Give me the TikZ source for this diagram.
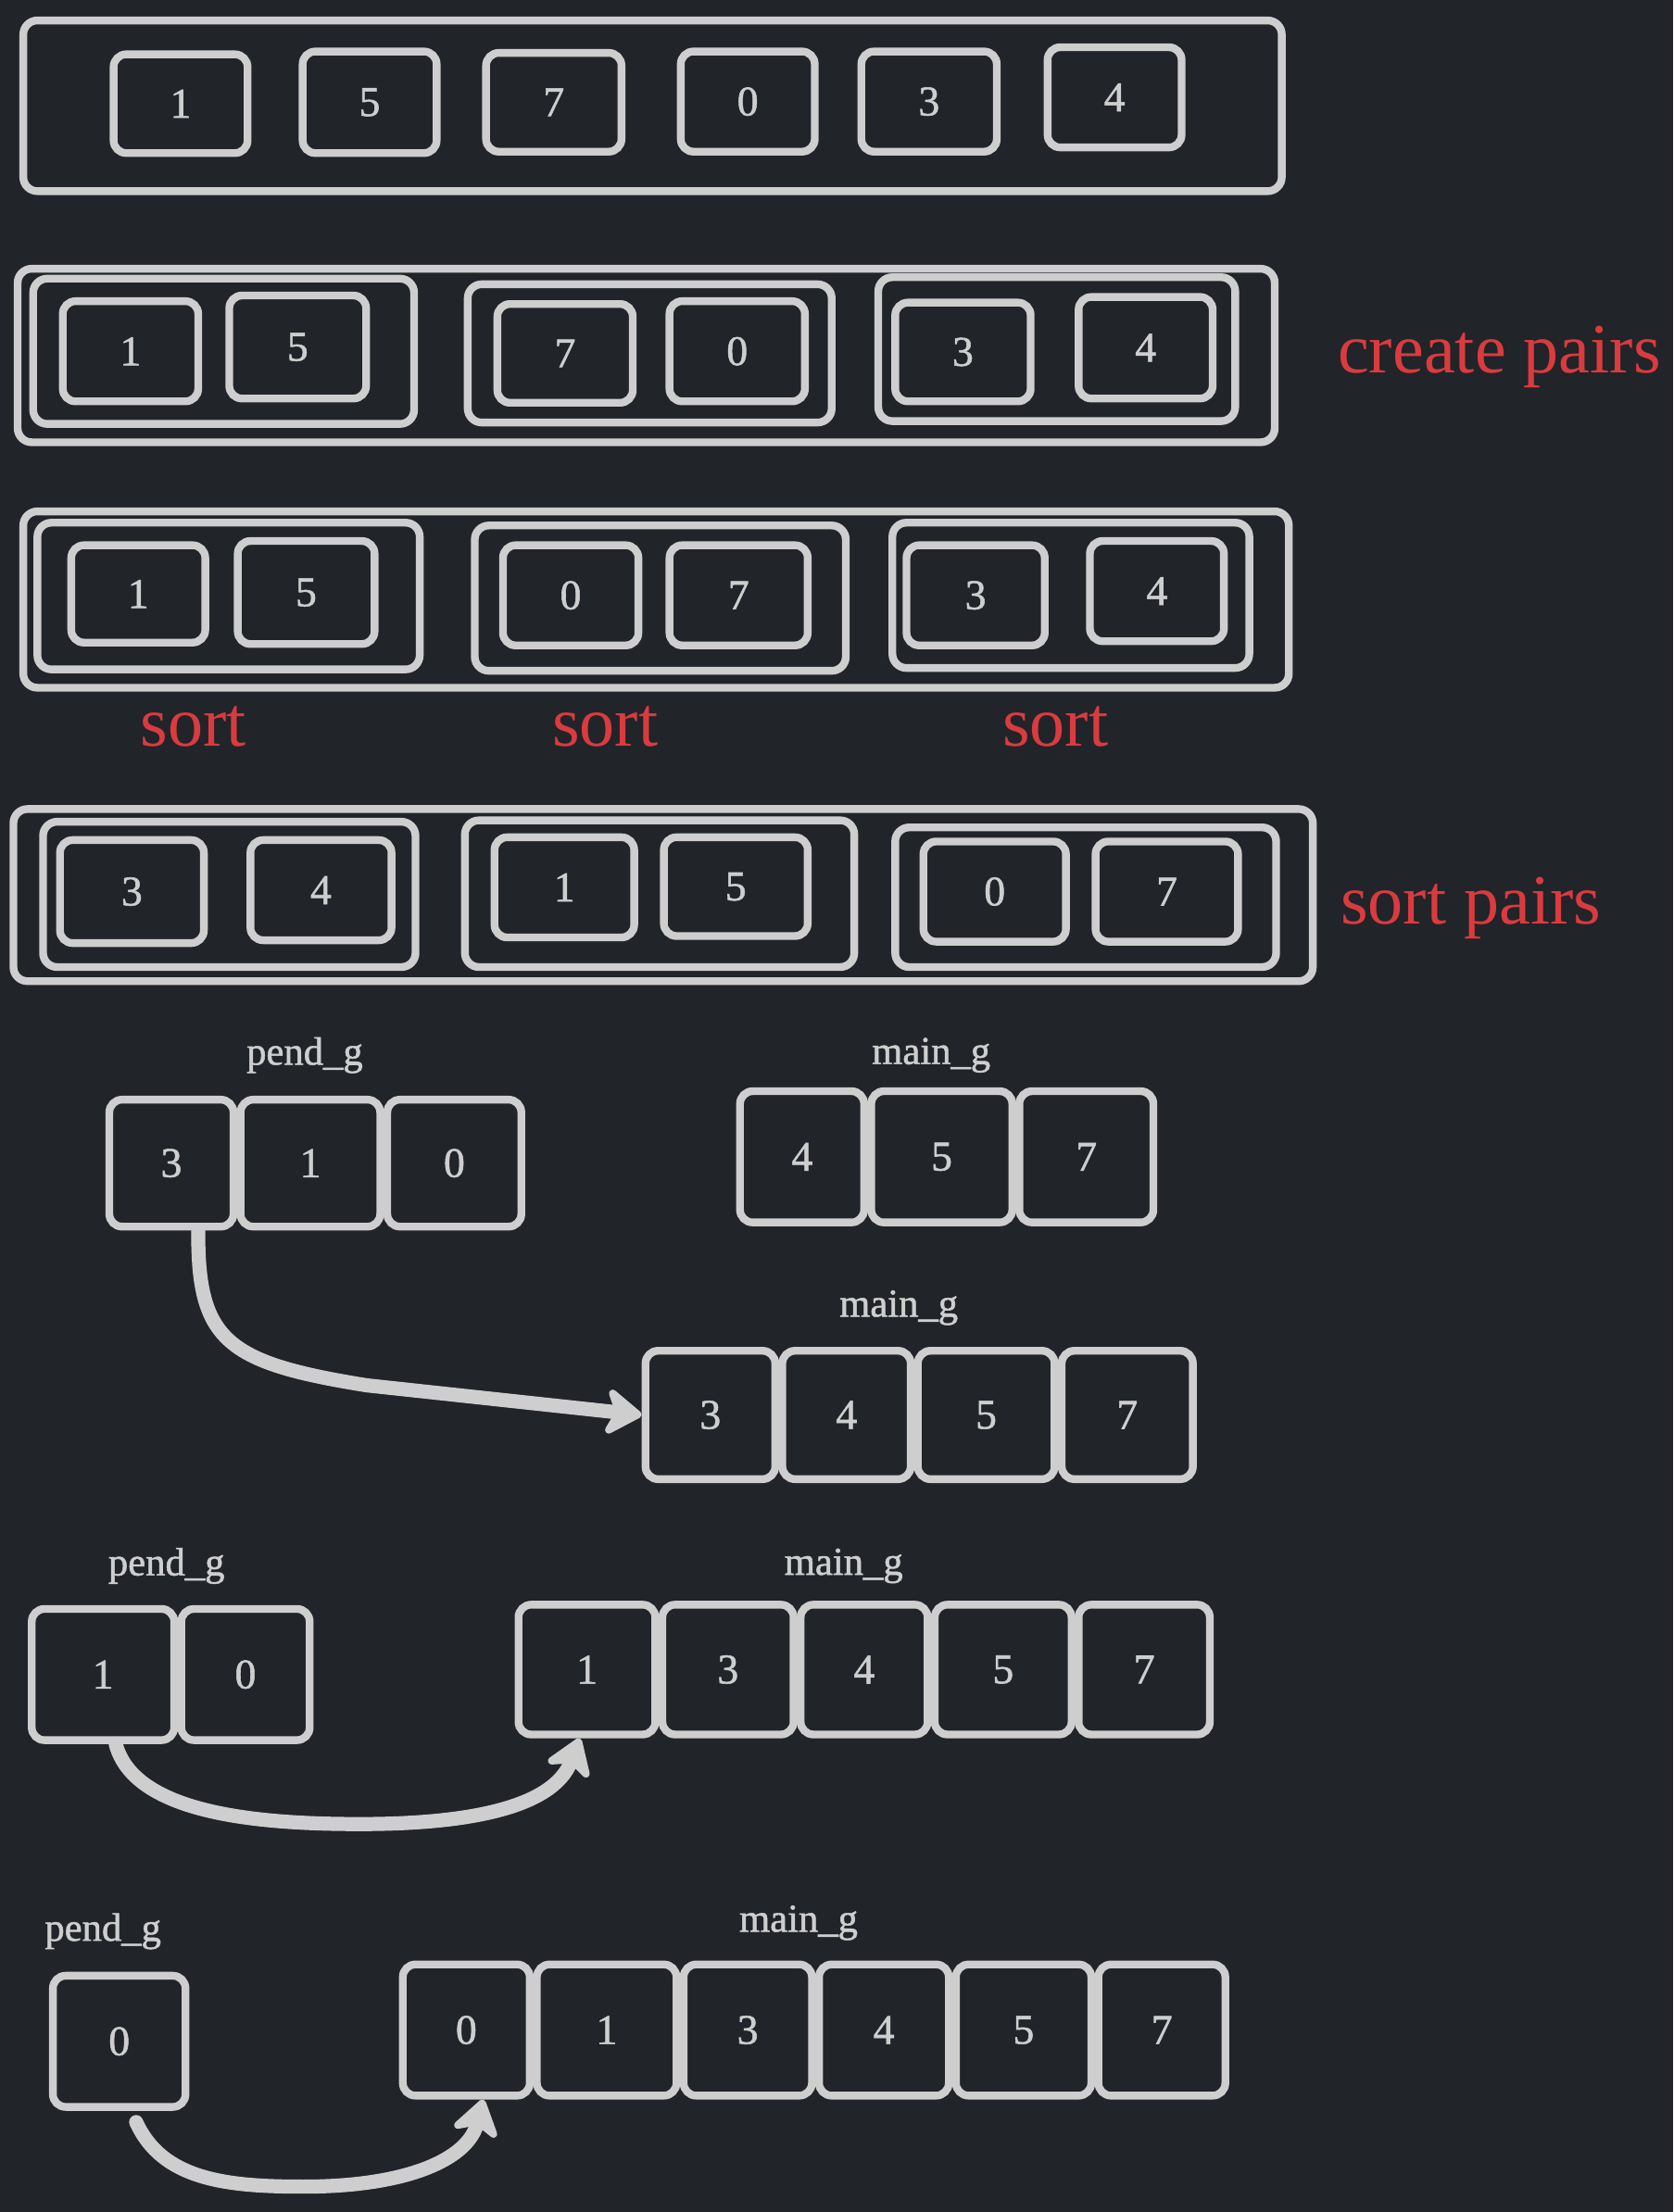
\documentclass[tikz,border=0pt]{standalone}
\usepackage{fontspec}
\setmainfont{Liberation Serif}
\newfontfamily\heavyserif[FakeBold=1.2]{Liberation Serif}
\usetikzlibrary{arrows.meta}
\definecolor{bgc}{HTML}{212429}
\definecolor{fg}{HTML}{CECECE}
\definecolor{redc}{HTML}{D93B3F}
\newcommand{\digitfont}{\heavyserif\fontsize{30}{36}\selectfont}
\newcommand{\grpfont}{\heavyserif\fontsize{28}{32}\selectfont}
\newcommand{\redfont}{\fontsize{50}{60}\selectfont}
\tikzset{
  frame/.style={draw=fg, line width=5.5pt, rounded corners=10pt, inner sep=0pt},
  cell/.style={draw=fg, line width=5.5pt, rounded corners=9pt, inner sep=0pt, font=\digitfont, text=fg},
  grplabel/.style={font=\grpfont, text=fg, inner sep=0pt},
  redlabel/.style={font=\redfont, text=redc, inner sep=0pt},
  movearrow/.style={draw=fg, line width=10pt, line cap=round, -{Stealth[length=30pt,width=40pt,inset=9pt,round]}},
}
\begin{document}
\begin{tikzpicture}[x=1pt,y=-1pt]
\useasboundingbox (0,0) rectangle (1186,1568);
\fill[bgc] (0,0) rectangle (1186,1568);

% ---------- Row 1 ----------
\node[frame, minimum width=892pt, minimum height=121pt] (r1) at (462.5,75) {};
\node[cell, minimum width=95pt, minimum height=70pt] (r1a) at (128,73.5) {1};
\node[cell, minimum width=95pt, minimum height=72pt] (r1b) at (262,72.5) {5};
\node[cell, minimum width=96pt, minimum height=70pt] (r1c) at (392.5,72.5) {7};
\node[cell, minimum width=95pt, minimum height=71pt] (r1d) at (530,72) {0};
\node[cell, minimum width=96pt, minimum height=71pt] (r1e) at (658.5,72) {3};
\node[cell, minimum width=95pt, minimum height=71pt] (r1f) at (790,69) {4};

% ---------- Row 2 ----------
\node[frame, minimum width=891pt, minimum height=123pt] (r2) at (458,252) {};
\node[frame, minimum width=270pt, minimum height=103pt] (r2g1) at (158.5,249) {};
\node[frame, minimum width=258pt, minimum height=98pt] (r2g2) at (460.5,250.5) {};
\node[frame, minimum width=253pt, minimum height=102pt] (r2g3) at (749,247.5) {};
\node[cell, minimum width=96pt, minimum height=71pt] (r2a) at (92.5,249) {1};
\node[cell, minimum width=97pt, minimum height=73pt] (r2b) at (211,246) {5};
\node[cell, minimum width=96pt, minimum height=70pt] (r2c) at (400.5,250.5) {7};
\node[cell, minimum width=96pt, minimum height=71pt] (r2d) at (522.5,249) {0};
\node[cell, minimum width=96pt, minimum height=70pt] (r2e) at (682.5,249.5) {3};
\node[cell, minimum width=95pt, minimum height=72pt] (r2f) at (812,246.5) {4};
\node[redlabel, anchor=base west] (lcp) at (948,264) {create pairs};

% ---------- Row 3 ----------
\node[frame, minimum width=897pt, minimum height=125pt] (r3) at (465,425) {};
\node[frame, minimum width=271pt, minimum height=104pt] (r3g1) at (162,422.5) {};
\node[frame, minimum width=263pt, minimum height=103pt] (r3g2) at (468,424) {};
\node[frame, minimum width=253pt, minimum height=103pt] (r3g3) at (759,422) {};
\node[cell, minimum width=95pt, minimum height=69pt] (r3a) at (98,421) {1};
\node[cell, minimum width=97pt, minimum height=73pt] (r3b) at (217,420) {5};
\node[cell, minimum width=96pt, minimum height=71pt] (r3c) at (404.5,422) {0};
\node[cell, minimum width=98pt, minimum height=71pt] (r3d) at (523.5,422) {7};
\node[cell, minimum width=98pt, minimum height=71pt] (r3e) at (691.5,422) {3};
\node[cell, minimum width=95pt, minimum height=71pt] (r3f) at (820,419) {4};
\node[redlabel, anchor=base] (ls1) at (137,529) {sort};
\node[redlabel, anchor=base] (ls2) at (429,529) {sort};
\node[redlabel, anchor=base] (ls3) at (748,529) {sort};

% ---------- Row 4 ----------
\node[frame, minimum width=921pt, minimum height=122pt] (r4) at (470,634.5) {};
\node[frame, minimum width=264pt, minimum height=103pt] (r4g1) at (162.5,634) {};
\node[frame, minimum width=276pt, minimum height=104pt] (r4g2) at (467.5,633.5) {};
\node[frame, minimum width=270pt, minimum height=99pt] (r4g3) at (769.5,636) {};
\node[cell, minimum width=102pt, minimum height=73pt] (r4a) at (93.5,632) {3};
\node[cell, minimum width=100pt, minimum height=71pt] (r4b) at (227.5,631) {4};
\node[cell, minimum width=99pt, minimum height=71pt] (r4c) at (400,629) {1};
\node[cell, minimum width=102pt, minimum height=70pt] (r4d) at (521.5,628.5) {5};
\node[cell, minimum width=101pt, minimum height=71pt] (r4e) at (705,632) {0};
\node[cell, minimum width=101pt, minimum height=71pt] (r4f) at (827,632) {7};
\node[redlabel, anchor=base west] (lsp) at (950,655) {sort pairs};

% ---------- Section 5 ----------
\node[grplabel] (lp5) at (216,748) {pend\_g};
\node[grplabel] (lm5) at (660,748) {main\_g};
\node[cell, minimum width=88pt, minimum height=90pt] (p5a) at (121.5,824.5) {3};
\node[cell, minimum width=99pt, minimum height=90pt] (p5b) at (220,824.5) {1};
\node[cell, minimum width=95pt, minimum height=90pt] (p5c) at (322,824.5) {0};
\node[cell, minimum width=88pt, minimum height=93pt] (m5a) at (568.5,820) {4};
\node[cell, minimum width=100pt, minimum height=93pt] (m5b) at (667.5,820) {5};
\node[cell, minimum width=95pt, minimum height=93pt] (m5c) at (770,820) {7};

\node[grplabel] (lm5b) at (637,927) {main\_g};
\node[cell, minimum width=92pt, minimum height=91pt] (n5a) at (503.5,1003) {3};
\node[cell, minimum width=91pt, minimum height=91pt] (n5b) at (600,1003) {4};
\node[cell, minimum width=97pt, minimum height=91pt] (n5c) at (699,1003) {5};
\node[cell, minimum width=93pt, minimum height=91pt] (n5d) at (799,1003) {7};

\draw[movearrow] ([xshift=19pt]p5a.south) .. controls (140,950) and (160,966) .. (260,982) -- (n5a.west);

% ---------- Section 6 ----------
\node[grplabel] (lp6) at (118,1110) {pend\_g};
\node[grplabel] (lm6) at (598,1110) {main\_g};
\node[cell, minimum width=101pt, minimum height=93pt] (p6a) at (73,1187) {1};
\node[cell, minimum width=91pt, minimum height=93pt] (p6b) at (174,1187) {0};
\node[cell, minimum width=97pt, minimum height=92pt] (m6a) at (416,1183.5) {1};
\node[cell, minimum width=93pt, minimum height=92pt] (m6b) at (516,1183.5) {3};
\node[cell, minimum width=90pt, minimum height=92pt] (m6c) at (612.5,1183.5) {4};
\node[cell, minimum width=97pt, minimum height=92pt] (m6d) at (711,1183.5) {5};
\node[cell, minimum width=93pt, minimum height=92pt] (m6e) at (811,1183.5) {7};

\draw[movearrow] ([xshift=9pt]p6a.south) .. controls (95,1285) and (180,1293) .. (255,1293) .. controls (330,1293) and (392,1282) .. ([xshift=-5pt]m6a.south);

% ---------- Section 7 ----------
\node[grplabel] (lp7) at (73,1369) {pend\_g};
\node[grplabel] (lm7) at (566,1363) {main\_g};
\node[cell, minimum width=94pt, minimum height=93pt] (p7a) at (84.5,1447) {0};
\node[cell, minimum width=90pt, minimum height=93pt] (m7a) at (330.5,1439) {0};
\node[cell, minimum width=99pt, minimum height=93pt] (m7b) at (430,1439) {1};
\node[cell, minimum width=91pt, minimum height=93pt] (m7c) at (530,1439) {3};
\node[cell, minimum width=92pt, minimum height=93pt] (m7d) at (626.5,1439) {4};
\node[cell, minimum width=96pt, minimum height=93pt] (m7e) at (725.5,1439) {5};
\node[cell, minimum width=90pt, minimum height=93pt] (m7f) at (823.5,1439) {7};

\draw[movearrow] ([xshift=12pt,yshift=-8pt]p7a.south) .. controls (115,1545) and (160,1550) .. (215,1550) .. controls (290,1550) and (332,1530) .. ([xshift=12pt]m7a.south);
\end{tikzpicture}
\end{document}
